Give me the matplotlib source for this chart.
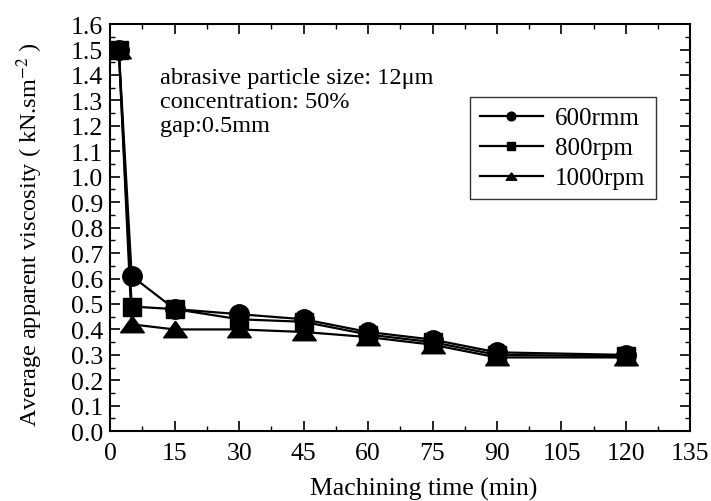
import matplotlib.pyplot as plt
from matplotlib.ticker import MultipleLocator

plt.rcParams['font.family'] = ['Liberation Serif', 'DejaVu Serif']
plt.rcParams['mathtext.fontset'] = 'stix'

# machining time (min)
time = [2, 5, 15, 30, 45, 60, 75, 90, 120]
visc_600 = [1.50, 0.61, 0.48, 0.46, 0.44, 0.39, 0.36, 0.31, 0.30]
visc_800 = [1.50, 0.49, 0.48, 0.44, 0.43, 0.38, 0.35, 0.30, 0.295]
visc_1000 = [1.50, 0.42, 0.40, 0.40, 0.39, 0.37, 0.34, 0.29, 0.29]

# wide, flat triangle like the original
tri = [(0, 0.7), (-1, -0.7), (1, -0.7), (0, 0.7)]

fig = plt.figure(figsize=(7.11, 5.02), dpi=100)
ax = fig.add_axes([0.155, 0.139, 0.816, 0.811])

ax.plot(time, visc_600, c='black', lw=1.6, marker='o', ms=14, label='600rmm')
ax.plot(time, visc_800, c='black', lw=1.6, marker='s', ms=13, label='800rpm')
ax.plot(time, visc_1000, c='black', lw=1.6, marker=tri, ms=17, label='1000rpm')

ax.set_xlim(0, 135)
ax.set_ylim(0, 1.6)
ax.xaxis.set_major_locator(MultipleLocator(15))
ax.xaxis.set_minor_locator(MultipleLocator(7.5))
ax.yaxis.set_major_locator(MultipleLocator(0.1))
ax.yaxis.set_minor_locator(MultipleLocator(0.05))
ax.yaxis.set_major_formatter(plt.FormatStrFormatter('%.1f'))
ax.tick_params(which='both', direction='in', top=True, right=True, labelsize=18.5)
ax.tick_params(axis='x', pad=8)
ax.tick_params(axis='y', pad=5)
ax.tick_params(which='major', length=7, width=1.2)
ax.tick_params(which='minor', length=3.5, width=1)
for s in ax.spines.values():
    s.set_linewidth(1.5)

ax.set_xlabel('Machining time (min)', fontsize=18.5, labelpad=9, x=0.54)
ax.set_ylabel('Average apparent viscosity ( kN.sm$^{-2}$ )', fontsize=17.5, labelpad=19, y=0.485)

ax.text(0.086, 0.895, 'abrasive particle size: 12\u03bcm\nconcentration: 50%\ngap:0.5mm',
        transform=ax.transAxes, fontsize=17.5, va='top', linespacing=1.2)

leg = ax.legend(loc='upper right', bbox_to_anchor=(0.94, 0.821), fontsize=18,
                markerscale=0.45, frameon=True, fancybox=False, edgecolor='black',
                handlelength=2.5, handletextpad=0.5, borderpad=0.4,
                labelspacing=0.3, borderaxespad=0)
leg.get_frame().set_linewidth(1.0)

fig.savefig('out.png', dpi=100)
